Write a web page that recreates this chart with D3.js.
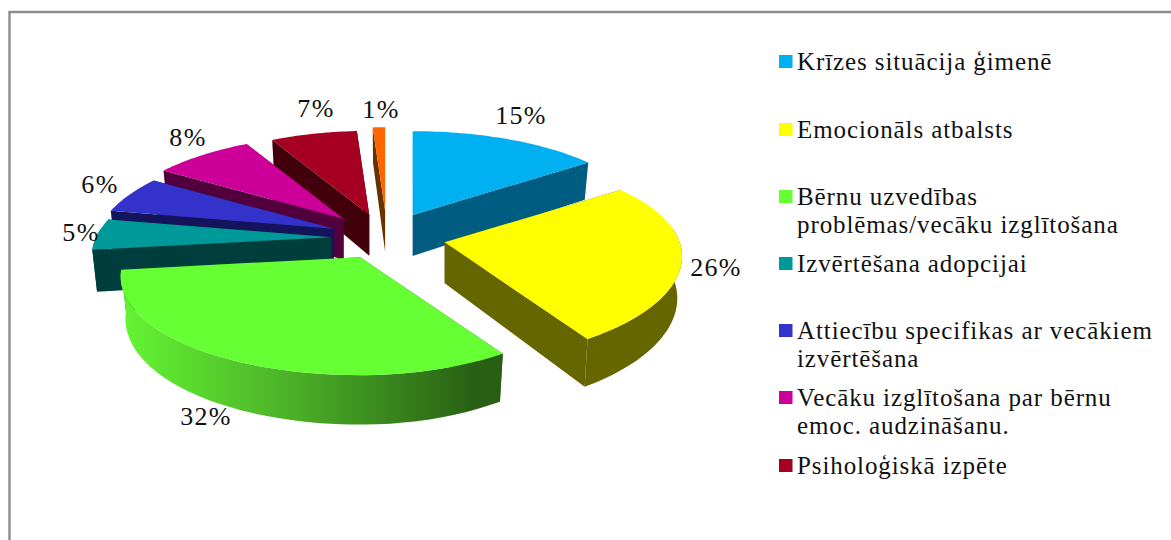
<!DOCTYPE html>
<html><head><meta charset="utf-8">
<style>html,body{margin:0;padding:0;background:#fff}svg{display:block}text{font-family:"Liberation Serif","Times New Roman",serif;fill:#111}</style>
<script src="https://cdn.jsdelivr.net/npm/d3@7/dist/d3.min.js"></script></head><body>
<script>
const categories = ["Krīzes situācija ģimenē","Emocionāls atbalsts","Bērnu uzvedības problēmas/vecāku izglītošana","Izvērtēšana adopcijai","Attiecību specifikas ar vecākiem izvērtēšana","Vecāku izglītošana par bērnu emoc. audzināšanu.","Psiholoģiskā izpēte","Cits"];
const values = [15,26,32,5,6,8,7,1];
const labels = ["15%","26%","32%","5%","6%","8%","7%","1%"];
const colors = ["#00B0F0","#FFFF00","#66FF33","#009999","#3333CC","#CC0099","#A50021","#FF6600"];
const sideColors = ["#005C80","#666600","#285F14","#003D3D","#14145C","#52003D","#42000D","#663300"];
const legendLines = [["Krīzes situācija ģimenē"],["Emocionāls atbalsts"],["Bērnu uzvedības","problēmas/vecāku izglītošana"],["Izvērtēšana adopcijai"],["Attiecību specifikas ar vecākiem","izvērtēšana"],["Vecāku izglītošana par bērnu","emoc. audzināšanu."],["Psiholoģiskā izpēte"]];

// layout
const W=1171,H=540;
const cx=387,cy=238,A=235,B=98,kyP=0.17,depth=41;
const kx=X=>X<0?.19:.14;
const explode=[.24,.25,.23,.225,.235,.245,.225,.25];
const explodeNudge=[0,0,-4,-3,-2,-4,-3,0];
const drawOrder=[7,6,5,4,3,0,1,2];
const legendY=[62,130,197,264,331,398,466];
const labelPos=[[521,124],[716,276],[206,425],[81,241],[100,193],[188,146],[316,117],[381,118]];

const svg=d3.select("body").append("svg").attr("width",W).attr("height",H);
const pie=d3.pie().sort(null).value(d=>d);
const arcs=pie(values);
const line=d3.line().x(d=>d[0]).y(d=>d[1]);

// frame
svg.append("path").attr("d",`M9.5,${H}V12H${W}`).attr("fill","none").attr("stroke","#8c8c8c").attr("stroke-width",2.4);

// green side gradient
const grad=svg.append("defs").append("linearGradient").attr("id","sideGrad").attr("gradientUnits","userSpaceOnUse")
  .attr("x1",122).attr("x2",503).attr("y1",0).attr("y2",0);
grad.append("stop").attr("offset",0).attr("stop-color","#64F533");
grad.append("stop").attr("offset",.45).attr("stop-color","#4BB027");
grad.append("stop").attr("offset",.93).attr("stop-color","#285F14");
grad.append("stop").attr("offset",1).attr("stop-color","#285F14");

function origin(i){
  const a=arcs[i],m=(a.startAngle+a.endAngle)/2,X=Math.sin(m),Z=Math.cos(m),e=explode[i];
  return [cx+e*A*X+explodeNudge[i], cy-e*Z*(Z>0?108:92)];
}
function topPt(o,t){const X=Math.sin(t),Z=Math.cos(t);return [o[0]+A*X/(1+kx(X)*Z),o[1]-B*Z/(1+kyP*Z)]}
function botPt(o,t){const X=Math.sin(t),Z=Math.cos(t),k=1+kyP*Z;return [o[0]+.98*A*X/(1+kx(X)*Z),o[1]-B*Z/k+depth/k]}
const sample=(s,e)=>d3.range(0,41).map(j=>s+(e-s)*j/40);

const g=svg.append("g");
drawOrder.forEach(i=>{
  const a=arcs[i],o=origin(i),s=a.startAngle,e=a.endAngle,side=sideColors[i];
  const o2=[o[0],o[1]+depth];
  const sl=g.append("g").attr("class","slice");
  sl.append("path").attr("d",line([o,topPt(o,s),botPt(o,s),o2])+"Z").attr("fill",side);
  sl.append("path").attr("d",line([o,topPt(o,e),botPt(o,e),o2])+"Z").attr("fill",side);
  const lo=Math.max(s,Math.PI/2-.15),hi=Math.min(e,Math.PI*1.5+.1);
  if(hi>lo){
    const ts=sample(lo,hi);
    sl.append("path").attr("d",line(ts.map(t=>topPt(o,t)).concat(ts.slice().reverse().map(t=>botPt(o,t))))+"Z")
      .attr("fill",i===2?"url(#sideGrad)":side);
  }
  sl.append("path").attr("d",line([o].concat(sample(s,e).map(t=>topPt(o,t))))+"Z").attr("fill",colors[i]);
});

// data labels
svg.append("g").selectAll("text").data(labels).join("text")
  .attr("x",(d,i)=>labelPos[i][0]).attr("y",(d,i)=>labelPos[i][1])
  .attr("text-anchor","middle").attr("font-size",26).attr("letter-spacing",1.3).text(d=>d);

// legend
const lg=svg.append("g").selectAll("g").data(legendLines).join("g");
lg.append("rect").attr("x",779).attr("y",(d,i)=>legendY[i]-7).attr("width",13.5).attr("height",13).attr("fill",(d,i)=>colors[i]);
lg.each(function(d,i){
  d3.select(this).selectAll("text").data(d).join("text")
    .attr("x",797).attr("y",(t,j)=>legendY[i]+8+j*28).attr("font-size",25).attr("letter-spacing",.9).text(t=>t);
});
</script></body></html>
